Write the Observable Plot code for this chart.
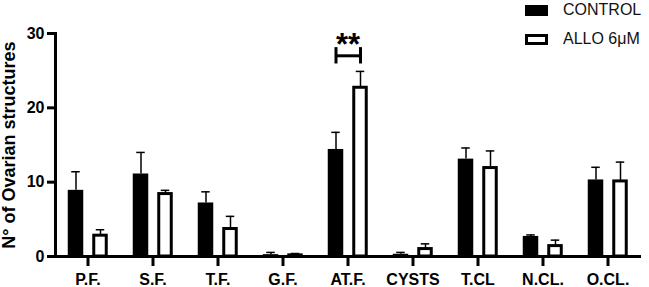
<!DOCTYPE html>
<html>
<head>
<meta charset="utf-8">
<script src="https://cdn.jsdelivr.net/npm/d3@7"></script>
<script src="https://cdn.jsdelivr.net/npm/@observablehq/plot@0.6"></script>
<style>
  body { margin: 0; background: #fff; }
  #wrap { position: relative; width: 649px; height: 287px; font-family: "Liberation Sans", Arial, sans-serif; }
  #legend { position: absolute; left: 525px; top: 0; }
  .row { position: absolute; left: 0; height: 20px; display: flex; align-items: center; white-space: nowrap; font-size: 16px; color: #111; }
  .sw { width: 23px; height: 11px; box-sizing: border-box; margin-right: 15px; }
  g[aria-label="y-axis label"] text { font-size: 18px; }
</style>
</head>
<body>
<div id="wrap"><div id="legend"></div></div>
<script>
const categories = ["P.F.", "S.F.", "T.F.", "G.F.", "AT.F.", "CYSTS", "T.CL", "N.CL.", "O.CL."];
const groups = ["CONTROL", "ALLO 6μM"];
const controlMean = [8.9, 11.1, 7.2, 0.25, 14.4, 0.3, 13.1, 2.7, 10.3];
const controlErr  = [2.5, 2.9, 1.5, 0.3, 2.3, 0.25, 1.5, 0.2, 1.7];
const alloMean    = [2.8, 8.4, 3.7, 0.15, 22.7, 1.0, 11.9, 1.4, 10.1];
const alloErr     = [0.8, 0.5, 1.7, 0.25, 2.2, 0.7, 2.3, 0.8, 2.6];
const yTicks = [0, 10, 20, 30];
const sigCategory = "AT.F.";
const sigValue = 27;
const sigHalf = 1.1;
const sigLabel = "**";
const yLabel = "N° of Ovarian structures";

const control = categories.map((c, i) => ({cat: c, v: controlMean[i], hi: controlMean[i] + controlErr[i]}));
const allo = categories.map((c, i) => ({cat: c, v: alloMean[i], hi: alloMean[i] + alloErr[i]}));
const sig = [{cat: sigCategory, y: sigValue, y1: sigValue - sigHalf, y2: sigValue + sigHalf, label: sigLabel}];

const xRange = [52.25, 641.75];
const bw = (xRange[1] - xRange[0]) / categories.length;
const span = (lo, hi) => ({insetLeft: bw / 2 + lo, insetRight: bw / 2 - hi});

const chart = Plot.plot({
  width: 649,
  height: 287,
  marginTop: 33,
  marginBottom: 31,
  marginLeft: 55,
  marginRight: 8,
  style: {fontFamily: '"Liberation Sans", Arial, sans-serif', fontWeight: "bold", color: "#000", background: "transparent"},
  x: {type: "band", domain: categories, range: xRange, padding: 0},
  y: {domain: [0, 30]},
  marks: [
    Plot.barY(control, {x: "cat", y: "v", fill: "#000", ...span(-20, -4)}),
    Plot.barY(allo, {x: "cat", y: "v", fill: "#fff", stroke: "#000", strokeWidth: 3, ...span(6, 19)}),
    Plot.ruleX(control, {x: "cat", y1: "v", y2: "hi", dx: -12, stroke: "#000", strokeWidth: 1.5}),
    Plot.tickY(control, {x: "cat", y: "hi", stroke: "#000", strokeWidth: 1.5, ...span(-16.5, -7.5)}),
    Plot.ruleX(allo, {x: "cat", y1: "v", y2: "hi", dx: 12.5, stroke: "#000", strokeWidth: 1.5}),
    Plot.tickY(allo, {x: "cat", y: "hi", stroke: "#000", strokeWidth: 1.5, ...span(8, 17)}),
    Plot.tickY(sig, {x: "cat", y: "y", stroke: "#000", strokeWidth: 3, ...span(-12, 12.5)}),
    Plot.ruleX(sig, {x: "cat", y1: "y1", y2: "y2", dx: -12, stroke: "#000", strokeWidth: 3}),
    Plot.ruleX(sig, {x: "cat", y1: "y1", y2: "y2", dx: 12.5, stroke: "#000", strokeWidth: 3}),
    Plot.text(sig, {x: "cat", y: "y", text: "label", dy: -11, fontSize: 31, fontWeight: "bold", fill: "#000"}),
    Plot.ruleY([0], {stroke: "#000", strokeWidth: 3}),
    Plot.frame({anchor: "left", stroke: "#000", strokeWidth: 3, strokeLinecap: "square"}),
    Plot.axisX({tickSize: 10, strokeWidth: 3, tickPadding: 7, fontSize: 16, label: null, fill: "#000"}),
    Plot.axisY({ticks: yTicks, tickFormat: d3.format("d"), tickSize: 8, strokeWidth: 3, tickPadding: 3, fontSize: 16,
      label: yLabel, labelAnchor: "center", labelOffset: 53, labelArrow: "none", fill: "#000"})
  ]
});
document.getElementById("wrap").prepend(chart);

const legend = d3.select("#legend");
groups.forEach((g, i) => {
  const row = legend.append("div").attr("class", "row").style("top", (i === 0 ? 0 : 29) + "px");
  row.append("div").attr("class", "sw")
    .style("background", i === 0 ? "#000" : "#fff")
    .style("border", i === 0 ? "none" : "3px solid #000");
  row.append("span").text(g);
});
</script>
</body>
</html>
